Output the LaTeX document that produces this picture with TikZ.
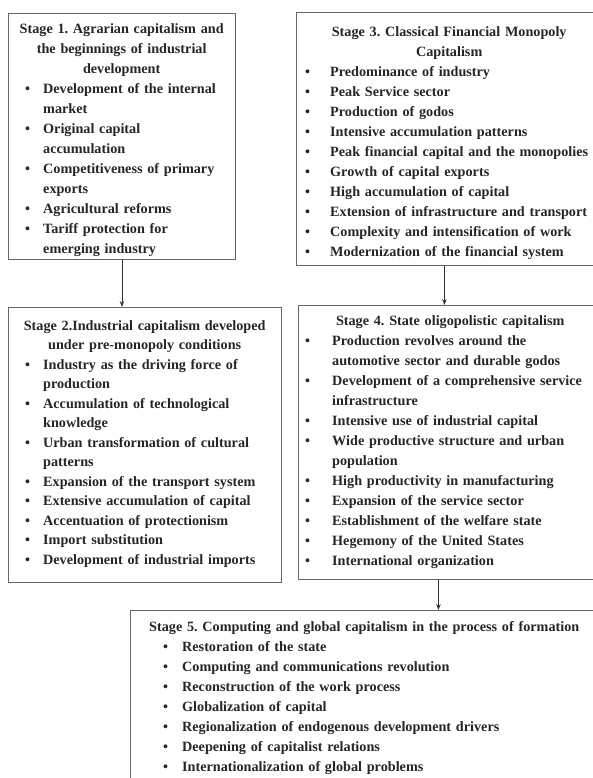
\documentclass[tikz,border=0pt]{standalone}
\usepackage{fontspec}
\setmainfont{Liberation Serif}
\usetikzlibrary{arrows.meta}
\newlength\bulpos
\newlength\txtpos
\newcommand{\stitem}[1]{\par\noindent\hangindent=\txtpos\hangafter=1\makebox[\txtpos][l]{\hspace{\bulpos}\textbullet}#1}
\tikzset{
  stagebox/.style={draw=black!60, line width=0.9pt, anchor=north west, inner sep=0pt},
  stagetext/.style={anchor=north west, inner sep=0pt, text width=#1,
    font=\fontsize{14.2}{20}\bfseries\selectfont\frenchspacing, text=black!85},
  link/.style={-{Stealth[length=6pt,width=4.5pt]}, line width=0.7pt, draw=black!80},
}
\begin{document}
\begin{tikzpicture}[x=1pt,y=-1pt]
\clip (0,0) rectangle (593,778);
\fill[white] (0,0) rectangle (593,778);

% boxes
\node[stagebox, minimum width=227, minimum height=246] (b1) at (8,13) {};
\node[stagebox, minimum width=273, minimum height=275] (b2) at (8,307) {};
\node[stagebox, minimum width=306, minimum height=253] (b3) at (296,12) {};
\node[stagebox, minimum width=304, minimum height=274] (b4) at (298,305) {};
\node[stagebox, minimum width=490, minimum height=200] (b5) at (130,610) {};

% texts
\node[stagetext=227pt] (t1) at (8,23) {%
  \setlength\bulpos{17pt}\setlength\txtpos{35pt}%
  {\centering Stage 1. Agrarian capitalism and\\ the beginnings of industrial\\ development\par}
  \stitem{Development of the internal\newline market}
  \stitem{Original capital\newline accumulation}
  \stitem{Competitiveness of primary\newline exports}
  \stitem{Agricultural reforms}
  \stitem{Tariff protection for\newline emerging industry}\par};

\node[stagetext=273pt, font=\fontsize{14.2}{19.5}\bfseries\selectfont\frenchspacing] (t2) at (8,320) {%
  \setlength\bulpos{17pt}\setlength\txtpos{35pt}%
  {\centering Stage 2.Industrial capitalism developed\\ under pre-monopoly conditions\par}
  \stitem{Industry as the driving force of\newline production}
  \stitem{Accumulation of technological\newline knowledge}
  \stitem{Urban transformation of cultural\newline patterns}
  \stitem{Expansion of the transport system}
  \stitem{Extensive accumulation of capital}
  \stitem{Accentuation of protectionism}
  \stitem{Import substitution}
  \stitem{Development of industrial imports}\par};

\node[stagetext=306pt] (t3) at (296,26) {%
  \setlength\bulpos{9pt}\setlength\txtpos{34pt}%
  {\centering Stage 3. Classical Financial Monopoly\\ Capitalism\par}
  \stitem{Predominance of industry}
  \stitem{Peak Service sector}
  \stitem{Production of godos}
  \stitem{Intensive accumulation patterns}
  \stitem{Peak financial capital and the monopolies}
  \stitem{Growth of capital exports}
  \stitem{High accumulation of capital}
  \stitem{Extension of infrastructure and transport}
  \stitem{Complexity and intensification of work}
  \stitem{Modernization of the financial system}\par};

\node[stagetext=304pt] (t4) at (298,315) {%
  \setlength\bulpos{7pt}\setlength\txtpos{34pt}%
  {\centering Stage 4. State oligopolistic capitalism\par}
  \stitem{Production revolves around the\newline automotive sector and durable godos}
  \stitem{Development of a comprehensive service\newline infrastructure}
  \stitem{Intensive use of industrial capital}
  \stitem{Wide productive structure and urban\newline population}
  \stitem{High productivity in manufacturing}
  \stitem{Expansion of the service sector}
  \stitem{Establishment of the welfare state}
  \stitem{Hegemony of the United States}
  \stitem{International organization}\par};

\node[stagetext=470pt] (t5) at (130,621) {%
  \setlength\bulpos{33pt}\setlength\txtpos{52pt}%
  \noindent\hspace{19pt}Stage 5. Computing and global capitalism in the process of formation\par
  \stitem{Restoration of the state}
  \stitem{Computing and communications revolution}
  \stitem{Reconstruction of the work process}
  \stitem{Globalization of capital}
  \stitem{Regionalization of endogenous development drivers}
  \stitem{Deepening of capitalist relations}
  \stitem{Internationalization of global problems}\par};

% connectors
\draw[link] (b1.south) -- (b1.south |- b2.north);
\draw[link] ([xshift=-5pt]b3.south) -- ([xshift=-5pt]b3.south |- b4.north);
\draw[link] ([xshift=-12pt]b4.south) -- ([xshift=-12pt]b4.south |- b5.north);
\end{tikzpicture}
\end{document}
